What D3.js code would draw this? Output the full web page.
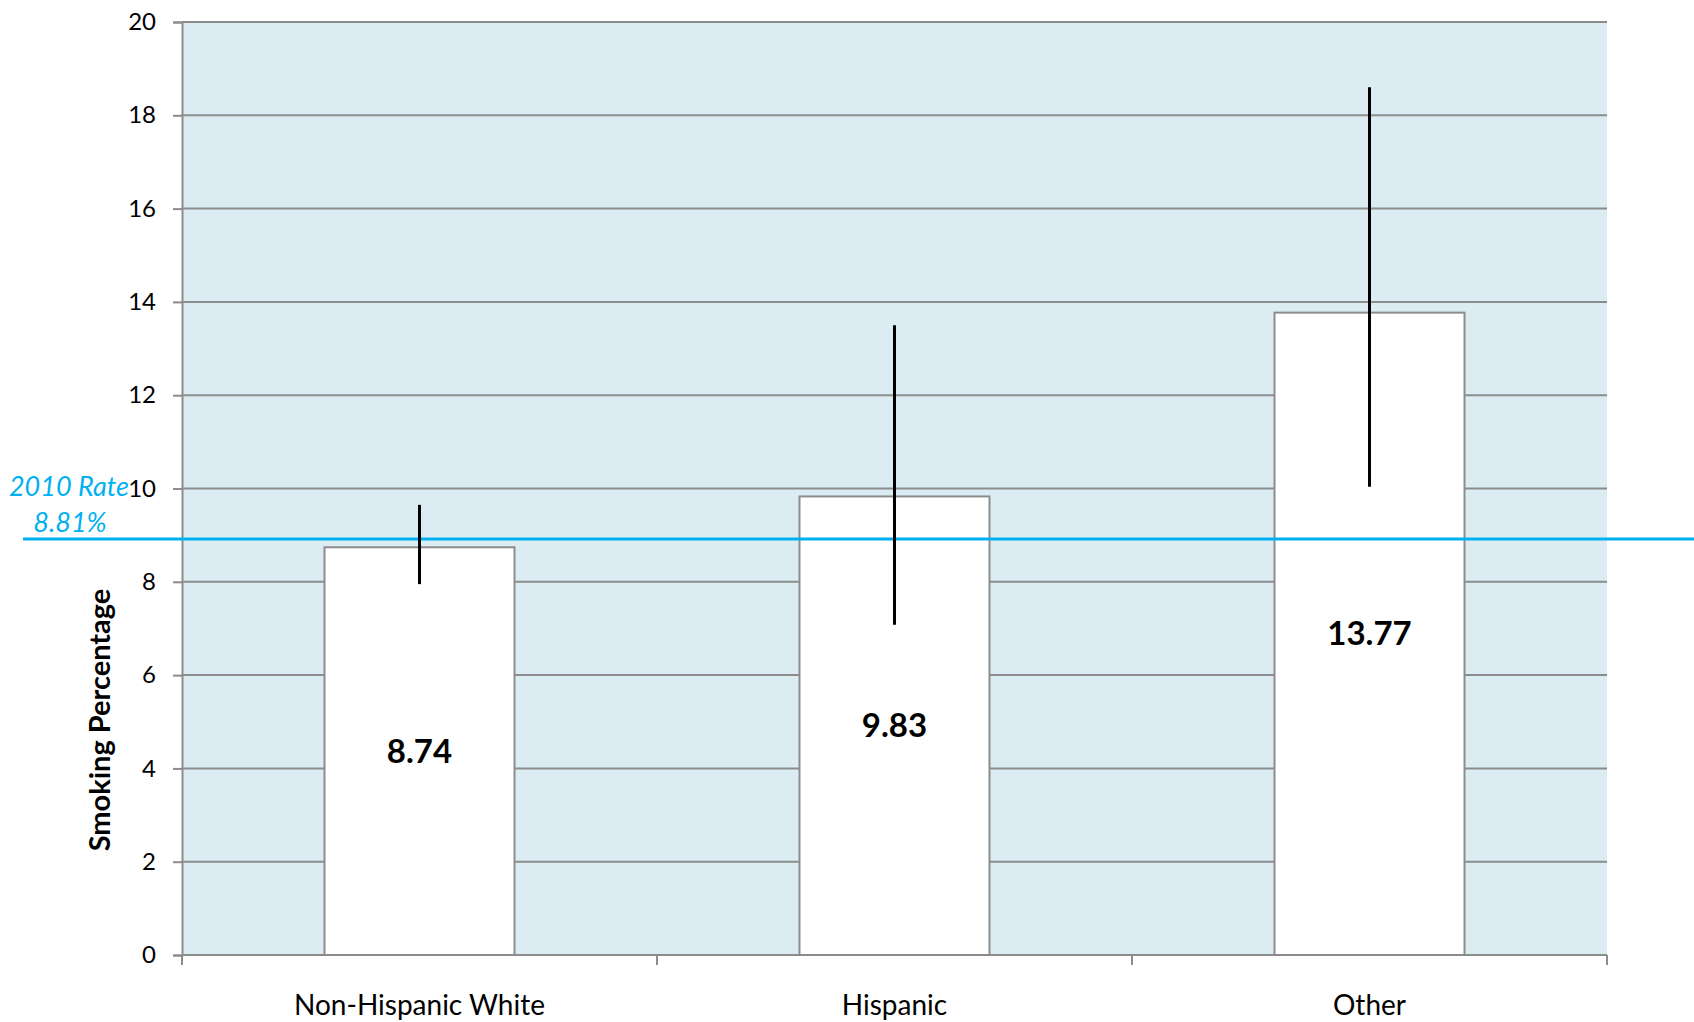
<!DOCTYPE html>
<html><head><meta charset="utf-8">
<script src="https://cdn.jsdelivr.net/npm/d3@7"></script>
<style>body{margin:0;background:#fff}svg{display:block}text{font-family:Lato,"Open Sans",sans-serif}</style>
</head><body>
<svg id="c" width="1694" height="1022"></svg>
<script>
const categories = ["Non-Hispanic White", "Hispanic", "Other"];
const values = [8.74, 9.83, 13.77];
const errLow = [7.95, 7.08, 10.04];
const errHigh = [9.65, 13.5, 18.6];
const yTicks = [0, 2, 4, 6, 8, 10, 12, 14, 16, 18, 20];
const refRate = 8.81;
const refLinePos = 8.92;
const refLabel = ["2010 Rate", "8.81%"];
const yTitle = "Smoking Percentage";

const svg = d3.select("#c");
const L = 182, R = 1607, T = 22, B = 955;
const x = d3.scaleBand().domain(categories).range([L, R]).padding(0);
const y = d3.scaleLinear().domain([0, 20]).range([B, T]);
const bw = x.bandwidth() * 0.4;

svg.append("rect").attr("x", L).attr("y", T).attr("width", R - L).attr("height", B - T).attr("fill", "#dbedf3");

svg.append("g").selectAll("line").data(yTicks.filter(d => d > 0)).join("line")
  .attr("x1", L).attr("x2", R).attr("y1", d => y(d)).attr("y2", d => y(d))
  .attr("stroke", "#8c8c8c").attr("stroke-width", 2);

// bars
svg.append("g").selectAll("rect").data(values).join("rect")
  .attr("x", (d, i) => x(categories[i]) + (x.bandwidth() - bw) / 2)
  .attr("y", d => y(d)).attr("width", bw).attr("height", d => B - y(d))
  .attr("fill", "#fff").attr("stroke", "#8c8c8c").attr("stroke-width", 2);

// axes
const yAxis = svg.append("g").attr("transform", `translate(${L},0)`)
  .call(d3.axisLeft(y).tickValues(yTicks).tickSize(9).tickPadding(17));
const xAxis = svg.append("g").attr("transform", `translate(0,${B})`)
  .call(d3.axisBottom(x).tickSize(0).tickPadding(40));
[yAxis, xAxis].forEach(g => {
  g.select(".domain").attr("stroke", "#8c8c8c").attr("stroke-width", 2);
  g.selectAll(".tick line").attr("stroke", "#8c8c8c").attr("stroke-width", 2);
  g.selectAll("text").attr("fill", "#000").style("font-family", "Lato,'Open Sans',sans-serif");
});
yAxis.selectAll("text").style("font-size", "24px");
xAxis.selectAll("text").style("font-size", "28px").attr("dy", "0.71em");
xAxis.select(".domain").remove();
xAxis.append("line").attr("x1", L).attr("x2", R).attr("stroke", "#8c8c8c").attr("stroke-width", 2);
// x ticks at band boundaries
const bounds = categories.map(c => x(c)).concat([R]);
xAxis.selectAll(".bt").data(bounds).join("line").attr("class", "bt")
  .attr("x1", d => d).attr("x2", d => d).attr("y1", 0).attr("y2", 10)
  .attr("stroke", "#8c8c8c").attr("stroke-width", 2);

// reference line
svg.append("line").attr("x1", 23).attr("x2", 1694).attr("y1", y(refLinePos)).attr("y2", y(refLinePos))
  .attr("stroke", "#00b0f0").attr("stroke-width", 3);

// error bars
svg.append("g").selectAll("line").data(values).join("line")
  .attr("x1", (d, i) => x(categories[i]) + x.bandwidth() / 2)
  .attr("x2", (d, i) => x(categories[i]) + x.bandwidth() / 2)
  .attr("y1", (d, i) => y(errHigh[i])).attr("y2", (d, i) => y(errLow[i]))
  .attr("stroke", "#000").attr("stroke-width", 3);

// value labels
svg.append("g").selectAll("text").data(values).join("text")
  .attr("x", (d, i) => x(categories[i]) + x.bandwidth() / 2)
  .attr("y", d => y(d / 2)).attr("dy", "0.35em").attr("text-anchor", "middle")
  .style("font-size", "33px").style("font-weight", "bold").text(d => d.toFixed(2));

// ref labels
svg.append("text").attr("x", 129).attr("y", 496).attr("text-anchor", "end")
  .attr("fill", "#00b0f0").style("font-style", "italic").style("font-size", "27px").text(refLabel[0]);
svg.append("text").attr("x", 70).attr("y", 532).attr("text-anchor", "middle")
  .attr("fill", "#00b0f0").style("font-style", "italic").style("font-size", "27px").text(refLabel[1]);

// y title
svg.append("text").attr("transform", "translate(110,720) rotate(-90)").attr("text-anchor", "middle")
  .style("font-size", "29px").style("font-weight", "bold").text(yTitle);
</script>
</body></html>
